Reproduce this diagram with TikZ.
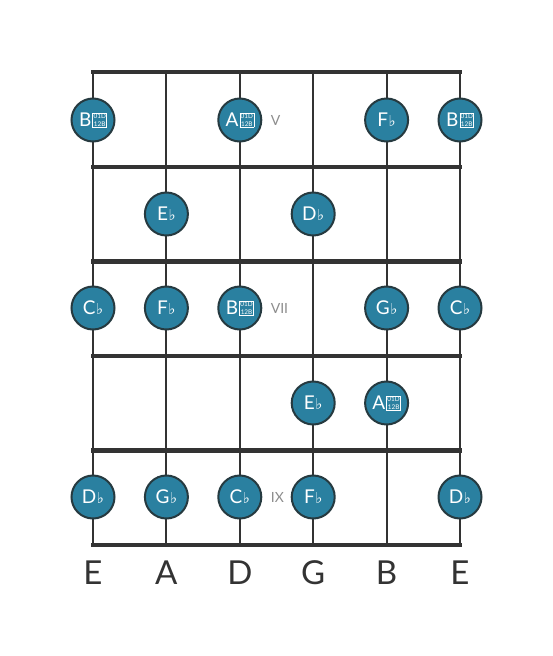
\documentclass[tikz,border=0pt]{standalone}
\usepackage{fontspec}
\setmainfont{Lato}
\newfontfamily\symfont{DejaVu Sans}
\usetikzlibrary{positioning}
\definecolor{notefill}{HTML}{2A80A0}
\definecolor{noteline}{HTML}{263A40}
\definecolor{boardline}{HTML}{333333}
\newcommand{\fl}{\kern0.5pt{\symfont\fontsize{15}{15}\selectfont ♭}}
\newcommand{\dfl}{\kern1.2pt\raisebox{-0.5pt}{\fboxsep=0.6pt\fboxrule=0.5pt\fbox{\fontsize{6.4}{7}\selectfont\shortstack{01D\\12B}}}}
\tikzset{
  x=1pt, y=-1pt,
  note/.style={circle, draw=noteline, line width=2pt, fill=notefill,
    minimum size=43pt, inner sep=0pt, text=white,
    font=\fontsize{19}{19}\selectfont},
  fret/.style={boardline, line width=4.5pt},
  string/.style={boardline, line width=2pt},
  marker/.style={text=gray!90, font=\fontsize{14}{14}\selectfont},
  tuning/.style={text=boardline, font=\fontsize{33}{33}\selectfont},
}

\begin{document}
\begin{tikzpicture}
      \useasboundingbox (0,0) rectangle (553,656);

      % strings
      \foreach \s/\x in {1/93,2/166.4,3/239.8,4/313.2,5/386.6,6/460}
        \draw[string] (\x,72) -- (\x,545);
      % frets
      \foreach \y in {72,167,261.5,356,450.5,545}
        \draw[fret,line cap=rect] (93,\y) -- (460,\y);

      % fret 5
      \node[note] (n1e) at (93,120)    {B\dfl};
      \node[note] (n1d) at (239.8,120) {A\dfl};
      \node[note] (n1b) at (386.6,120) {F\fl};
      \node[note] (n1h) at (460,120)   {B\dfl};
      \node[marker,right=5pt of n1d]   (m5) {V};
      % fret 6
      \node[note] (n2a) at (166.4,214) {E\fl};
      \node[note] (n2g) at (313.2,214) {D\fl};
      % fret 7
      \node[note] (n3e) at (93,308)    {C\fl};
      \node[note] (n3a) at (166.4,308) {F\fl};
      \node[note] (n3d) at (239.8,308) {B\dfl};
      \node[note] (n3b) at (386.6,308) {G\fl};
      \node[note] (n3h) at (460,308)   {C\fl};
      \node[marker,right=5pt of n3d]   (m7) {VII};
      % fret 8
      \node[note] (n4g) at (313.2,403) {E\fl};
      \node[note] (n4b) at (386.6,403) {A\dfl};
      % fret 9
      \node[note] (n5e) at (93,497)    {D\fl};
      \node[note] (n5a) at (166.4,497) {G\fl};
      \node[note] (n5d) at (239.8,497) {C\fl};
      \node[note] (n5g) at (313.2,497) {F\fl};
      \node[note] (n5h) at (460,497)   {D\fl};
      \node[marker,right=5pt of n5d]   (m9) {IX};

      % tuning
      \foreach \x/\t [count=\i] in {93/E,166.4/A,239.8/D,313.2/G,386.6/B,460/E}
        \node[tuning] (t\i) at (\x,573) {\t};
\end{tikzpicture}
\end{document}
